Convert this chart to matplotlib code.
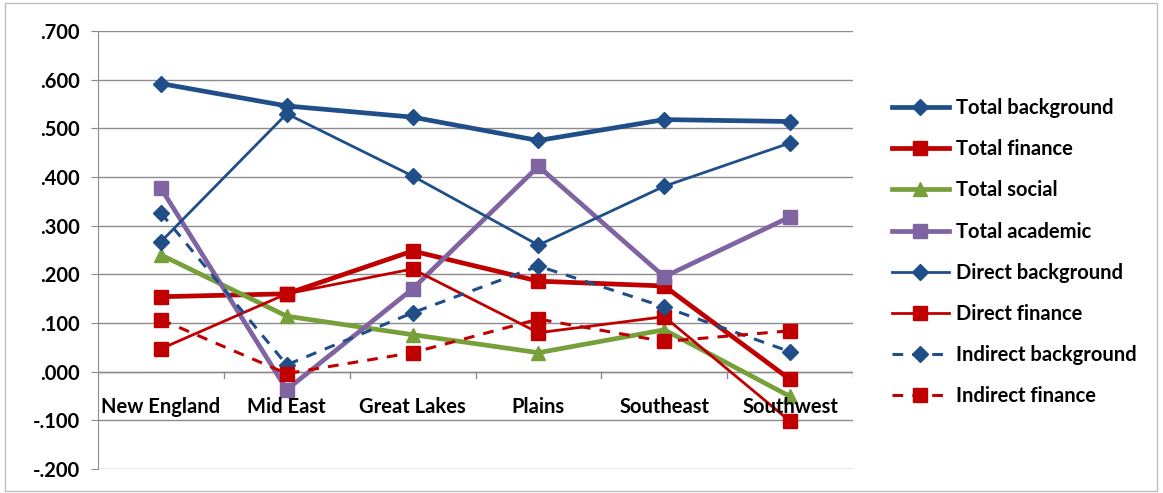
import numpy as np
import matplotlib
matplotlib.use("Agg")
import matplotlib.pyplot as plt
from matplotlib.patches import Rectangle

regions = ["New England", "Mid East", "Great Lakes", "Plains", "Southeast", "Southwest"]

total_background = [0.592, 0.546, 0.523, 0.475, 0.518, 0.514]
total_finance = [0.154, 0.160, 0.248, 0.186, 0.176, -0.016]
total_social = [0.240, 0.114, 0.076, 0.039, 0.086, -0.051]
total_academic = [0.377, -0.037, 0.170, 0.422, 0.195, 0.318]
direct_background = [0.267, 0.530, 0.402, 0.260, 0.381, 0.470]
direct_finance = [0.047, 0.160, 0.211, 0.080, 0.113, -0.102]
indirect_background = [0.326, 0.014, 0.121, 0.217, 0.133, 0.041]
indirect_finance = [0.107, -0.004, 0.039, 0.108, 0.062, 0.084]

yticks = [-0.2, -0.1, 0.0, 0.1, 0.2, 0.3, 0.4, 0.5, 0.6, 0.7]

blue = "#1F4E89"
red = "#C00000"
green = "#77A03A"
purple = "#8064A2"

plt.rcParams["font.family"] = ["Lato", "DejaVu Sans"]
plt.rcParams["font.size"] = 14.5
plt.rcParams["font.weight"] = "bold"

fig = plt.figure(figsize=(11.63, 4.93), dpi=100)
ax = fig.add_axes([98 / 1163, 1 - 469 / 493, (853 - 98) / 1163, (469 - 31) / 493])

x = np.arange(len(regions))

series = [
    ("Total background", total_background, blue, "-", 3.4, "D", 8),
    ("Total finance", total_finance, red, "-", 3.4, "s", 10),
    ("Total social", total_social, green, "-", 3.4, "^", 10),
    ("Total academic", total_academic, purple, "-", 3.4, "s", 10),
    ("Direct background", direct_background, blue, "-", 2.0, "D", 8),
    ("Direct finance", direct_finance, red, "-", 2.0, "s", 10),
    ("Indirect background", indirect_background, blue, (0, (3.5, 3)), 2.2, "D", 8),
    ("Indirect finance", indirect_finance, red, (0, (3.5, 3)), 2.2, "s", 10),
]

for name, vals, col, ls, lw, mk, ms in series:
    ax.plot(x, vals, color=col, linestyle=ls, linewidth=lw, marker=mk,
            markersize=ms, markerfacecolor=col, markeredgecolor=col, label=name)

ax.set_xlim(-0.5, len(regions) - 0.5)
ax.set_ylim(-0.2, 0.7)
ax.set_yticks(yticks)
ax.set_yticklabels([("-" if v < 0 else "") + ("%.3f" % abs(v))[1:] for v in yticks])
ax.yaxis.grid(True, color="#8C8C8C", linewidth=1)
ax.set_axisbelow(True)

for s in ["top", "right", "bottom"]:
    ax.spines[s].set_visible(False)
ax.spines["left"].set_color("#8C8C8C")
ax.tick_params(axis="y", length=5, color="#8C8C8C", pad=8)

# category axis crosses at zero
ax.set_xticks([])
ax.axhline(0, color="#8C8C8C", linewidth=1, zorder=1)
for b in np.arange(0.5, len(regions), 1.0):
    ax.plot([b, b], [0, -0.012], color="#8C8C8C", linewidth=1, zorder=1)
for xi, r in zip(x, regions):
    ax.text(xi, -0.072, r, ha="center", va="center")

leg = fig.legend(loc="upper left", bbox_to_anchor=(874 / 1163, 1 - 80 / 493),
                 frameon=False, handlelength=2.8, labelspacing=1.05,
                 handletextpad=0.35)

fig.patches.append(Rectangle((5 / 1163, 2 / 493), 1152 / 1163, 488 / 493,
                             transform=fig.transFigure, fill=False,
                             edgecolor="#BFBFBF", linewidth=1))

fig.savefig("out.png", dpi=100)
